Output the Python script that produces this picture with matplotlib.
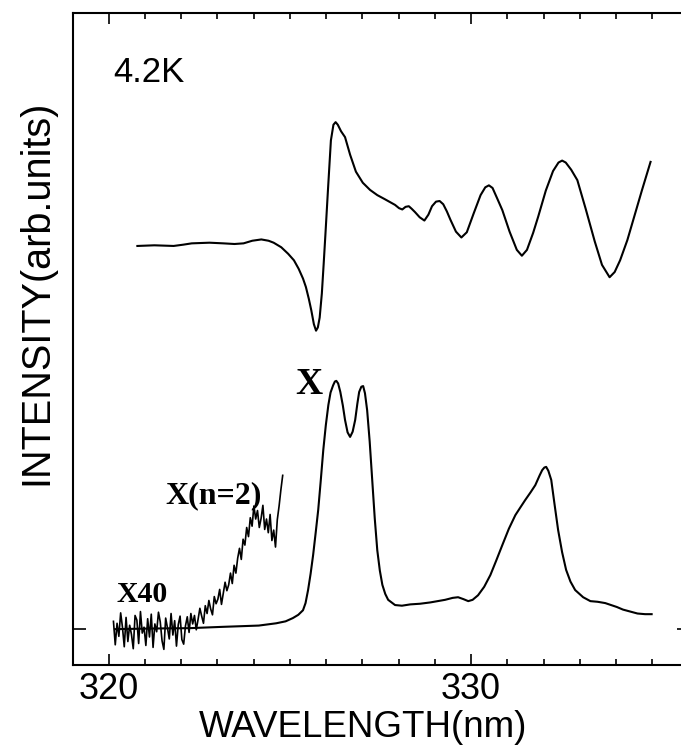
import numpy as np
import matplotlib
matplotlib.use("Agg")
import matplotlib.pyplot as plt
from matplotlib.ticker import MultipleLocator

# ---------------- data ----------------
# upper trace (reflectance-like spectrum)
upper_wl = [320.79, 321.26, 321.79, 322.06, 322.29, 322.78, 323.16, 323.47, 323.72, 323.96,
            324.21, 324.41, 324.55, 324.76, 324.95, 325.11, 325.24, 325.36, 325.44, 325.52,
            325.59, 325.66, 325.72, 325.77, 325.82, 325.88, 325.93, 325.98, 326.05, 326.13,
            326.20, 326.26, 326.32, 326.41, 326.52, 326.66, 326.82, 327.01, 327.21, 327.41,
            327.61, 327.90, 328.01, 328.10, 328.19, 328.28, 328.36, 328.45, 328.58, 328.71,
            328.82, 328.92, 329.03, 329.13, 329.23, 329.33, 329.43, 329.58, 329.73, 329.88,
            330.07, 330.26, 330.39, 330.49, 330.59, 330.71, 330.86, 331.06, 331.26, 331.40,
            331.54, 331.71, 331.85, 332.06, 332.26, 332.41, 332.51, 332.61, 332.76, 332.93,
            333.16, 333.41, 333.61, 333.82, 333.96, 334.11, 334.31, 334.51, 334.71, 334.95]
upper_val = [58.8, 58.9, 58.8, 59.0, 59.2, 59.3, 59.2, 59.1, 59.2, 59.6,
             59.8, 59.6, 59.3, 58.6, 57.6, 56.6, 55.3, 53.8, 52.5, 50.7,
             48.9, 46.8, 45.8, 46.3, 47.8, 51.5, 56.0, 60.7, 67.5, 75.0,
             77.4, 77.8, 77.4, 76.4, 75.5, 72.8, 70.2, 68.5, 67.4, 66.6,
             66.0, 65.1, 64.6, 64.4, 64.8, 64.9, 64.5, 64.0, 63.2, 62.7,
             63.6, 64.9, 65.6, 65.7, 65.2, 64.1, 62.8, 61.0, 60.1, 60.9,
             63.8, 66.6, 67.8, 68.1, 67.7, 66.2, 64.3, 61.0, 58.2, 57.3,
             58.2, 60.8, 63.3, 67.3, 70.3, 71.6, 71.9, 71.6, 70.5, 68.9,
             64.5, 59.5, 55.9, 54.0, 54.8, 56.6, 59.7, 63.5, 67.3, 71.7]

# lower trace (photoluminescence-like spectrum)
lower_wl = [320.17, 321.2, 322.21, 323.12, 324.14, 324.62, 324.88, 325.08, 325.23, 325.36,
            325.43, 325.50, 325.57, 325.64, 325.71, 325.78, 325.85, 325.92, 325.99, 326.06,
            326.12, 326.19, 326.24, 326.28, 326.33, 326.39, 326.46, 326.52, 326.59, 326.66,
            326.73, 326.80, 326.86, 326.91, 326.97, 327.02, 327.07, 327.13, 327.20, 327.27,
            327.34, 327.41, 327.48, 327.55, 327.63, 327.71, 327.90, 328.09, 328.32, 328.59,
            328.87, 329.28, 329.49, 329.64, 329.79, 329.92, 330.04, 330.19, 330.36, 330.53,
            330.69, 330.86, 331.04, 331.22, 331.36, 331.49, 331.64, 331.77, 331.89, 331.96,
            332.02, 332.07, 332.13, 332.21, 332.30, 332.40, 332.51, 332.62, 332.74, 332.87,
            333.09, 333.29, 333.49, 333.70, 334.02, 334.19, 334.39, 334.59, 334.80, 334.98]
lower_val = [0.0, 0.1, 0.15, 0.35, 0.55, 0.9, 1.2, 1.7, 2.2, 2.9,
             4.0, 6.0, 8.5, 11.4, 14.8, 18.3, 22.8, 27.5, 31.3, 34.4,
             36.3, 37.4, 38.0, 38.1, 37.7, 36.4, 34.3, 32.1, 30.2, 29.5,
             30.3, 32.1, 34.6, 36.4, 37.2, 37.3, 36.2, 33.6, 28.8, 22.9,
             17.0, 12.1, 9.0, 6.8, 5.4, 4.5, 3.7, 3.6, 3.8, 3.9,
             4.1, 4.5, 4.8, 4.9, 4.6, 4.3, 4.5, 5.2, 6.5, 8.3,
             10.5, 12.9, 15.4, 17.5, 18.7, 19.8, 21.0, 22.1, 23.6, 24.4,
             24.8, 24.9, 24.3, 22.9, 19.2, 15.2, 11.8, 9.1, 7.3, 6.0,
             4.9, 4.3, 4.2, 4.0, 3.4, 3.0, 2.7, 2.4, 2.3, 2.3]

# magnified (x40) noisy trace near the n=2 exciton
x40_start, x40_end = 320.13, 324.80
x40_val = [1.2, -2.4, 0.9, -1.1, 2.5, 0.3, -2.7, 1.8, -1.9, 0.6, -0.8, -3.0, 2.1, 1.4, -2.2,
           2.7, -0.6, 0.3, -2.5, 1.6, -1.2, 2.3, -2.8, 0.8, -0.4, 2.6, 1.1, -1.8, -3.1, 1.7,
           0.2, -1.5, 2.4, -0.9, 1.3, -2.6, 0.7, 2.0, -1.6, -2.3, 0.5, 1.9, -0.5, 2.4,
           0.8, 2.1, -0.1, 1.5, 3.2, 2.0, 0.9, 3.6, 2.4, 4.4, 3.1, 2.2, 5.0, 3.9, 4.6, 6.1,
           3.8, 5.5, 7.2, 5.9, 6.8, 8.6,
           7.0, 9.8, 8.6, 10.9, 12.4, 10.7, 13.8, 12.9, 15.6, 14.2, 17.1, 15.8, 18.9, 16.9,
           18.2, 15.6, 17.0, 19.0, 15.3, 16.9, 14.8, 17.6, 13.6, 15.2, 12.6, 16.8, 18.9, 21.4, 23.6]
x40_wl = np.linspace(x40_start, x40_end, len(x40_val))

xticks_major = [320, 330]
xtick_labels = ["320", "330"]

# ---------------- figure ----------------
W, H = 681, 747
fig = plt.figure(figsize=(W / 100, H / 100), dpi=100)
left_px, right_px, top_px, bot_px = 72.5, 688.6, 13.3, 665.0
ax = fig.add_axes([left_px / W, 1 - bot_px / H, (right_px - left_px) / W, (bot_px - top_px) / H])

lw = 1.5
ax.plot(upper_wl, upper_val, color="black", lw=lw)
ax.plot(lower_wl, lower_val, color="black", lw=lw)
ax.plot(x40_wl, x40_val, color="black", lw=1.2)

ax.set_xlim(319, 336)
ax.set_ylim(-5.5, 94.5)

ax.set_xticks(xticks_major)
ax.set_xticklabels(xtick_labels)
ax.xaxis.set_minor_locator(MultipleLocator(1))
ax.set_yticks([0])
ax.set_yticklabels([])
ax.tick_params(axis="x", which="major", direction="in", length=8, width=1.2,
               top=True, bottom=True, labelsize=26, pad=5)
ax.tick_params(axis="x", which="minor", direction="in", length=4, width=1.2,
               top=True, bottom=True)
ax.tick_params(axis="y", which="major", direction="in", length=9, width=1.2,
               left=True, right=True)
for lab in ax.get_xticklabels():
    lab.set_fontfamily("Liberation Sans")
for s in ax.spines.values():
    s.set_linewidth(1.5)

ax.text(0.066, 0.895, "4.2K", transform=ax.transAxes, fontsize=25,
        family="Liberation Sans", ha="left", va="baseline")
ax.text(325.53, 36.1, "X", fontsize=27, family="Liberation Serif", weight="bold",
        ha="center", va="baseline")
ax.text(321.55, 19.3, "X(n=2)", fontsize=23, family="Liberation Serif", weight="bold",
        ha="left", va="baseline")
ax.text(320.22, 4.1, "X40", fontsize=21.5, family="Liberation Serif", weight="bold",
        ha="left", va="baseline")

fig.text(363 / W, 1 - 737 / H, "WAVELENGTH(nm)", fontsize=26.5, family="Liberation Sans",
         ha="center", va="baseline")
fig.text(36 / W, 1 - 292 / H, "INTENSITY(arb.units)", fontsize=28.5, family="Liberation Sans",
         rotation=90, ha="center", va="center")

fig.savefig("out.png", dpi=100)
